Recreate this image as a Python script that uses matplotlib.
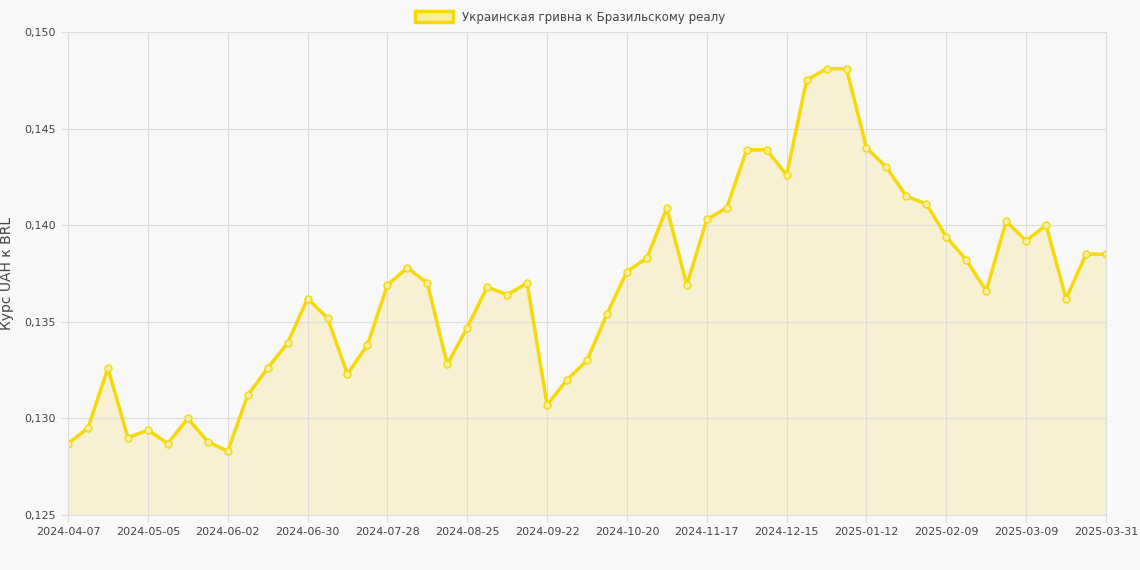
import matplotlib
matplotlib.use("Agg")
import matplotlib.pyplot as plt

values = [0.1287,0.1295,0.1326,0.1290,0.1294,0.1287,0.1300,0.1288,0.1283,0.1312,
          0.1326,0.1339,0.1362,0.1352,0.1323,0.1338,0.1369,0.1378,0.1370,0.1328,
          0.1347,0.1368,0.1364,0.1370,0.1307,0.1320,0.1330,0.1354,0.1376,0.1383,
          0.1409,0.1369,0.1403,0.1409,0.1439,0.1439,0.1426,0.1475,0.1481,0.1481,
          0.1440,0.1430,0.1415,0.1411,0.1394,0.1382,0.1366,0.1402,0.1392,0.1400,
          0.1362,0.1385,0.1385]
tick_labels = ["2024-04-07","2024-05-05","2024-06-02","2024-06-30","2024-07-28",
               "2024-08-25","2024-09-22","2024-10-20","2024-11-17","2024-12-15",
               "2025-01-12","2025-02-09","2025-03-09","2025-03-31"]
tick_pos = list(range(0, 49, 4)) + [52]
yticks = [0.125,0.130,0.135,0.140,0.145,0.150]

bg = "#f8f8f8"
fig = plt.figure(figsize=(11.4,5.7), dpi=100, facecolor=bg)
ax = fig.add_axes([68/1140, 1-515/570, (1106-68)/1140, (515-32)/570], facecolor=bg)
x = list(range(len(values)))
ax.fill_between(x, values, 0.125, color="#f7f0cf", alpha=0.9, lw=0)
ax.plot(x, values, color="#f5d90a", lw=2.5, marker="o", ms=5,
        mfc="#f7eea0", mec="#f5d90a", mew=1)
ax.set_xlim(0, 52); ax.set_ylim(0.125, 0.150)
ax.set_xticks(tick_pos); ax.set_xticklabels(tick_labels)
ax.set_yticks(yticks); ax.set_yticklabels([f"{v:.3f}".replace(".", ",") for v in yticks])
ax.grid(color="#dddddd", lw=0.8)
for s in ax.spines.values(): s.set_color("#dddddd")
ax.tick_params(colors="#444444", labelsize=8, length=5, color="#dddddd")
ax.set_ylabel("Курс UAH к BRL", color="#444444", fontsize=10)
ax.yaxis.set_label_coords(-54/1038, 0.5)
fig.legend(handles=[plt.Rectangle((0,0),1,1,fc="#f7eea0",ec="#f5d90a",lw=2.5)],
           labels=["Украинская гривна к Бразильскому реалу"], loc="upper center",
           bbox_to_anchor=(0.5, 1.0), frameon=False, fontsize=8.5, labelcolor="#444444",
           handlelength=3.2, handleheight=1.0)
fig.savefig("out.png", dpi=100, facecolor=bg)
